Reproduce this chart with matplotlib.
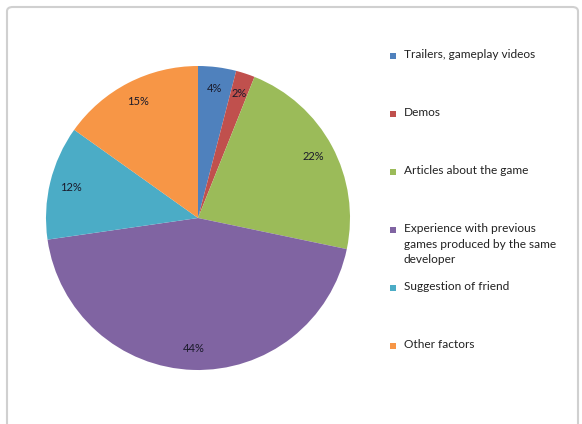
import matplotlib
matplotlib.use("Agg")
import matplotlib.pyplot as plt
from matplotlib.patches import Rectangle, FancyBboxPatch

plt.rcParams['font.family'] = ['Lato', 'DejaVu Sans']

labels = ['Trailers, gameplay videos', 'Demos', 'Articles about the game',
          'Experience with previous\ngames produced by the same\ndeveloper',
          'Suggestion of friend', 'Other factors']
shares = [4, 2, 22, 44, 12, 15]
colors = ['#4F81BD', '#C0504D', '#9BBB59', '#8064A2', '#4BACC6', '#F79646']

W, H = 582, 424
fig = plt.figure(figsize=(W / 100, H / 100), dpi=100)

# chart area border
fig.patches.append(FancyBboxPatch((7 / W, -0.05), 571 / W, 1 - 7 / H + 0.05,
                                  boxstyle='round,pad=0,rounding_size=0.01',
                                  transform=fig.transFigure, fill=False,
                                  edgecolor='#d0d0d0', linewidth=1.5))

cx, cy, r = 198, 218, 152
ax = fig.add_axes([(cx - r) / W, (H - cy - r) / H, 2 * r / W, 2 * r / H])
ax.pie(shares, colors=colors, startangle=90, counterclock=False,
       autopct='%1.0f%%', pctdistance=0.86,
       textprops={'fontsize': 8, 'color': '#1a1a2a'})
ax.set_xlim(-1, 1)
ax.set_ylim(-1, 1)
ax.set_aspect('equal')

# legend: equal slots, text starting at slot centre
slot_top, slot_h = 27, 58
for i, (lab, col) in enumerate(zip(labels, colors)):
    yc = slot_top + slot_h * (i + 0.5)
    fig.patches.append(Rectangle(((393 - 3) / W, 1 - (yc + 3) / H), 6 / W, 6 / H,
                                 transform=fig.transFigure, facecolor=col,
                                 edgecolor='none'))
    fig.text(404 / W, 1 - (yc - 7) / H, lab, fontsize=8.6, color='#222222',
             va='top', ha='left', linespacing=1.5)

fig.savefig('out.png', dpi=100)
